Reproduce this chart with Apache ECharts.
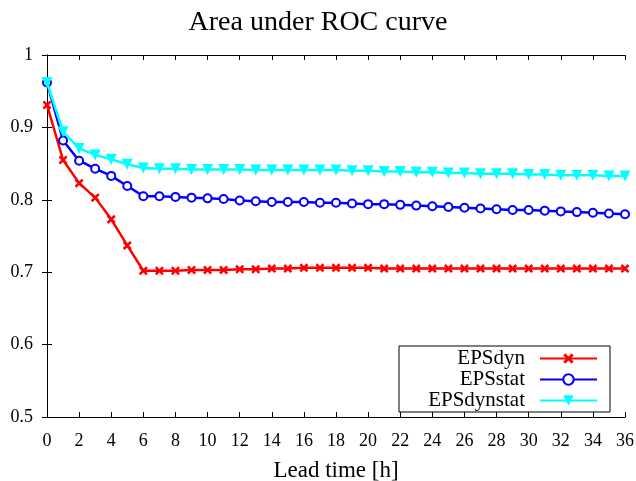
<!DOCTYPE html>
<html>
<head>
<meta charset="utf-8">
<script src="https://cdn.jsdelivr.net/npm/echarts@6/dist/echarts.min.js"></script>
<style>
  html, body { margin: 0; padding: 0; background: #fff; }
  #chart { width: 636px; height: 481px; }
</style>
</head>
<body>
<div id="chart"></div>
<script>
// lead time in hours
const hours = []
for (let h = 0; h <= 36; h++) hours.push(h)

const epsDyn = [0.931, 0.855, 0.823, 0.803, 0.773, 0.737, 0.702, 0.702, 0.702, 0.703, 0.703, 0.703, 0.704, 0.704, 0.705, 0.705, 0.706, 0.706, 0.706, 0.706, 0.706, 0.705, 0.705, 0.705, 0.705, 0.705, 0.705, 0.705, 0.705, 0.705, 0.705, 0.705, 0.705, 0.705, 0.705, 0.705, 0.705]
const epsStat = [0.962, 0.882, 0.854, 0.843, 0.833, 0.819, 0.805, 0.805, 0.804, 0.803, 0.802, 0.801, 0.799, 0.798, 0.797, 0.797, 0.797, 0.796, 0.796, 0.795, 0.794, 0.794, 0.793, 0.792, 0.791, 0.790, 0.789, 0.788, 0.787, 0.786, 0.786, 0.785, 0.784, 0.783, 0.782, 0.781, 0.780]
const epsDynStat = [0.962, 0.894, 0.871, 0.862, 0.856, 0.849, 0.844, 0.843, 0.843, 0.842, 0.842, 0.842, 0.842, 0.841, 0.841, 0.841, 0.841, 0.841, 0.841, 0.840, 0.840, 0.839, 0.839, 0.838, 0.838, 0.837, 0.837, 0.836, 0.836, 0.836, 0.835, 0.835, 0.834, 0.834, 0.834, 0.833, 0.833]

const font = 'Liberation Serif'
const crossPath = 'path://M0,2L2,0L5,3L8,0L10,2L7,5L10,8L8,10L5,7L2,10L0,8L3,5Z'

const pairs = (ys) => hours.map((h, i) => [h, ys[i]])

const chart = echarts.init(document.getElementById('chart'))

const axisCommon = {
  axisLine: { lineStyle: { color: '#000', width: 1 } },
  axisTick: { inside: true, length: 5, lineStyle: { color: '#000' } },
  splitLine: { show: false },
}

chart.setOption({
  animation: false,
  backgroundColor: '#fff',
  title: {
    text: 'Area under ROC curve',
    left: 'center',
    top: 4,
    textStyle: { fontFamily: font, fontSize: 28, fontWeight: 'normal', color: '#000' },
  },
  grid: { left: 47, right: 11, top: 55, bottom: 64, outerBoundsMode: 'none' },
  legend: {
    orient: 'vertical',
    left: 399,
    top: 346,
    align: 'right',
    itemWidth: 57,
    itemHeight: 13,
    itemGap: 0,
    padding: [2, 12, 1, 6],
    borderColor: '#000',
    borderWidth: 1,
    backgroundColor: '#fff',
    textStyle: {
      fontFamily: font, fontSize: 21, lineHeight: 20.5, color: '#000',
      width: 120, align: 'right', padding: [0, 10, 0, 0],
    },
    data: ['EPSdyn', 'EPSstat', 'EPSdynstat'],
  },
  xAxis: [
    {
      type: 'value', min: 0, max: 36, interval: 2,
      name: 'Lead time [h]', nameLocation: 'middle', nameGap: 42,
      nameTextStyle: { fontFamily: font, fontSize: 23, color: '#000' },
      axisLabel: { fontFamily: font, fontSize: 18, color: '#000', margin: 15 },
      ...axisCommon,
    },
    {
      type: 'value', position: 'top', min: 0, max: 36, interval: 2,
      axisLabel: { show: false },
      ...axisCommon,
    },
  ],
  yAxis: [
    {
      type: 'value', min: 0.5, max: 1, interval: 0.1,
      axisLabel: {
        fontFamily: font, fontSize: 18, color: '#000', margin: 14,
        formatter: (v) => String(Math.round(v * 10) / 10),
      },
      ...axisCommon,
    },
    {
      type: 'value', position: 'right', min: 0.5, max: 1, interval: 0.1,
      axisLabel: { show: false },
      ...axisCommon,
    },
  ],
  series: [
    {
      name: 'EPSdyn', type: 'line', data: pairs(epsDyn),
      symbol: crossPath, symbolSize: 9,
      itemStyle: { color: '#ff0000' },
      lineStyle: { color: '#ff0000', width: 2.5 },
      z: 2,
    },
    {
      name: 'EPSstat', type: 'line', data: pairs(epsStat),
      symbol: 'emptyCircle', symbolSize: 8,
      itemStyle: { color: '#0000ff', borderWidth: 2 },
      lineStyle: { color: '#0000ff', width: 2.5 },
      z: 3,
    },
    {
      name: 'EPSdynstat', type: 'line', data: pairs(epsDynStat),
      symbol: 'triangle', symbolRotate: 180, symbolSize: 11,
      itemStyle: { color: '#00ffff' },
      lineStyle: { color: '#00ffff', width: 2.5 },
      z: 4,
    },
  ],
})
</script>
</body>
</html>
